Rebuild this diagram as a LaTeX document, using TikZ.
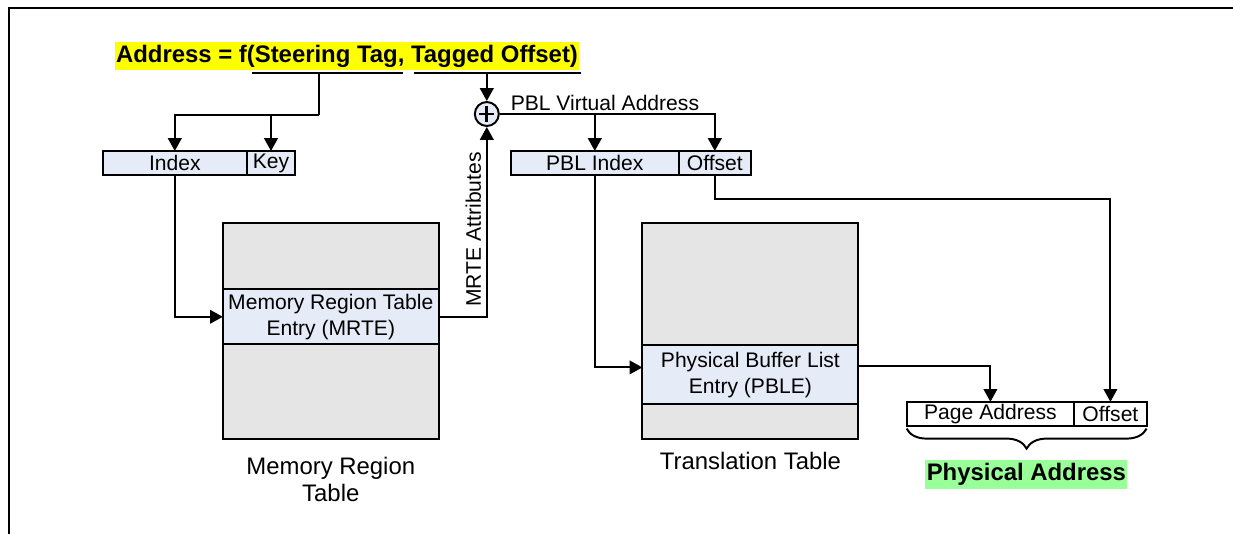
\documentclass[tikz,border=0pt]{standalone}
\usepackage{fontspec}
\setmainfont{Liberation Sans}
\usetikzlibrary{arrows.meta,positioning,decorations.pathreplacing}
\definecolor{fieldblue}{RGB}{230,236,247}
\definecolor{tablegray}{RGB}{229,229,229}
\definecolor{hiyellow}{RGB}{255,255,0}
\definecolor{higreen}{RGB}{153,255,153}

\begin{document}
\begin{tikzpicture}[
  every node/.style={font=\fontsize{15}{18.5}\selectfont},
  wire/.style={line width=1.4pt},
  arr/.style={wire, -{Triangle[length=0.32cm, width=0.34cm]}},
  field/.style={draw, line width=1.4pt, fill=fieldblue, minimum height=0.61cm,
                inner sep=0pt, outer sep=0pt},
  tablebox/.style={draw, line width=1.4pt, fill=tablegray, minimum width=5.4cm,
                   minimum height=5.4cm, outer sep=0pt},
  entrybox/.style={draw, line width=1.4pt, fill=fieldblue, minimum width=5.4cm,
                   align=center, inner sep=0pt, outer sep=0pt},
  tablelabel/.style={align=center, font=\fontsize{17}{19.2}\selectfont},
  hilite/.style={font=\fontsize{17}{20}\selectfont\bfseries,
                 inner xsep=1pt, inner ysep=2.2pt},
]

%% frame (only top and left edge visible)
\useasboundingbox (0,0) rectangle (30.825,-13.325);
\draw[line width=1.6pt] (0.225,-13.4) -- (0.225,-0.195) -- (30.9,-0.195);

%% Title with the two underlined parts
\node[hilite, fill=hiyellow] (title) at (8.675,-1.4)
  {Address = f(Steering Tag, Tagged Offset)};
\coordinate (tagL) at (6.3,-1.825);
\coordinate (tagR) at (10.075,-1.825);
\coordinate (offL) at (10.35,-1.825);
\coordinate (offR) at (14.525,-1.825);
\coordinate (tagmid) at (7.965,-1.825);
\coordinate (split) at (7.965,-2.875);
\draw[wire] (tagL) -- (tagR);
\draw[wire] (offL) -- (offR);

%% Steering tag: Index | Key
\node[field, minimum width=3.61cm] (idx) at (4.37,-4.08) {Index};
\node[field, minimum width=1.2cm, right=0pt of idx] (key) {Key};

%% Memory region table
\node[tablebox] (mrt) at (8.27,-8.28) {};
\node[entrybox, minimum height=1.375cm] (mrte) at ([yshift=0.36cm]mrt.center)
  {Memory Region Table\\Entry (MRTE)};
\node[tablelabel, below=0.33cm of mrt] (mrtlabel) {Memory Region\\Table};

%% Adder
\node[circle, draw, line width=1.4pt, fill=fieldblue, minimum size=0.6cm,
      inner sep=0pt] (sum) at (12.17,-2.85) {};
\draw[line width=2pt] ([yshift=-0.19cm]sum.center) -- ([yshift=0.19cm]sum.center)
  ([xshift=-0.19cm]sum.center) -- ([xshift=0.19cm]sum.center);

%% PBL virtual address: PBL Index | Offset
\node[field, minimum width=4.21cm] (pblidx) at (14.87,-4.08) {PBL Index};
\node[field, minimum width=1.79cm, right=0pt of pblidx] (pbloff) {Offset};
\node[anchor=base west] (pvalabel) at ([xshift=0.15cm, yshift=0.1cm]sum.east)
  {PBL Virtual Address};

%% Translation table
\node[tablebox] (tt) at (18.76,-8.28) {};
\node[entrybox, minimum height=1.48cm] (pble) at ([yshift=-1.09cm]tt.center)
  {Physical Buffer List\\Entry (PBLE)};
\node[tablelabel, below=0.2cm of tt] (ttlabel) {Translation Table};

%% Physical address: Page Address | Offset
\node[field, fill=white, minimum width=4.19cm] (page) at (24.76,-10.35) {Page Address};
\node[field, fill=white, minimum width=1.81cm, right=0pt of page] (physoff) {Offset};
\draw[wire, decorate, decoration={brace, mirror, amplitude=0.5cm}]
  ([yshift=-0.06cm]page.south west) -- ([yshift=-0.06cm]physoff.south east);
\node[hilite, fill=higreen] (phys) at (25.66,-11.86) {Physical Address};

%% Connectors
\draw[wire] (tagmid) -- (split);
\draw[arr] (split) -| (idx.north);
\draw[arr] (split -| key.north) -- (key.north);
\draw[arr] (sum |- offR) -- (sum.north);
\draw[arr] (idx.south) |- (mrte.west);
\draw[arr] (mrte.east) -| node[pos=0.73, rotate=90, above] (attr) {MRTE Attributes}
  (sum.south);
\draw[arr] (sum.east) -| (pbloff.north);
\draw[arr] (sum.east -| pblidx.north) -- (pblidx.north);
\draw[arr] (pblidx.south) |- ([yshift=0.185cm]pble.west);
\draw[arr] (pbloff.south) -- ++(0,-0.585) -| (physoff.north);
\draw[arr] ([yshift=0.225cm]pble.east) -| (page.north);

\end{tikzpicture}
\end{document}
